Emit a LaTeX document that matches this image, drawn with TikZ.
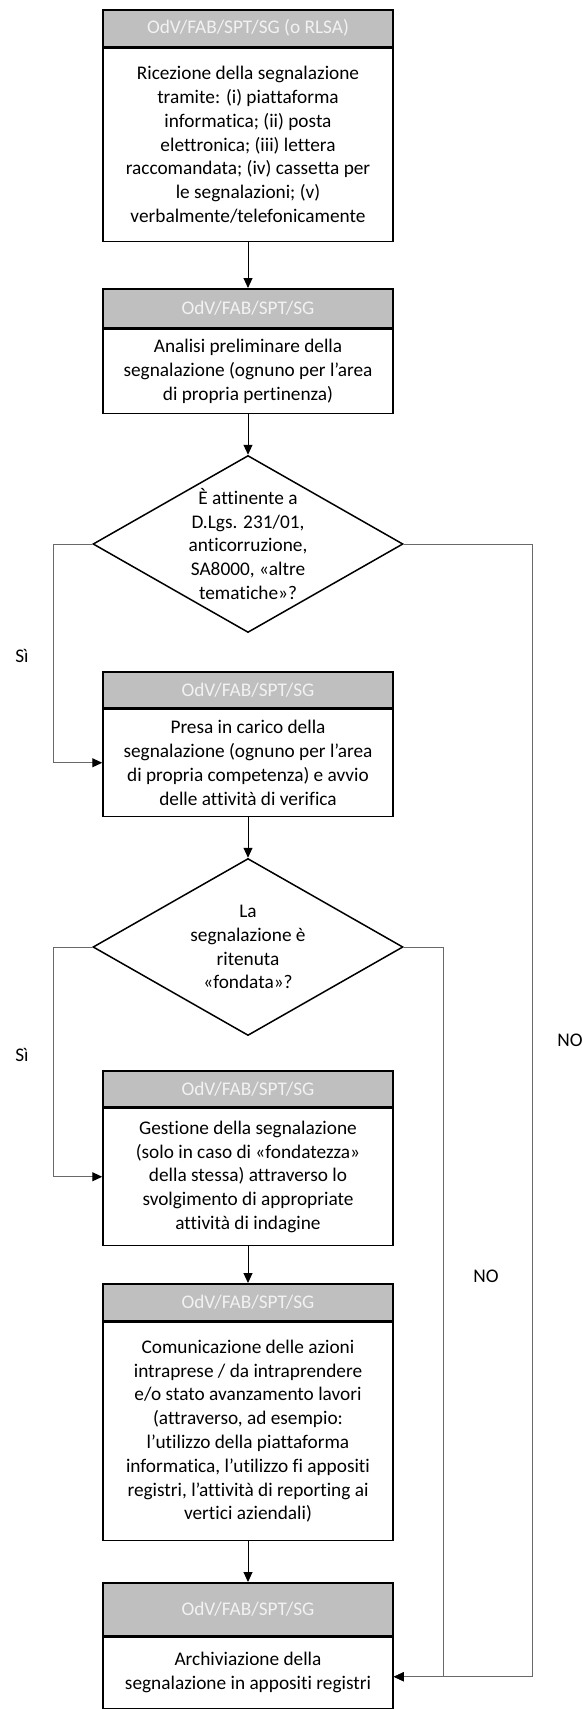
\documentclass[tikz,border=0pt]{standalone}
\usepackage{fontspec}
\setmainfont[Ligatures=NoCommon]{Carlito}
\usetikzlibrary{arrows.meta,shapes.geometric}
\definecolor{hdrfill}{RGB}{191,191,191}
\definecolor{hdrtext}{RGB}{242,242,242}
\definecolor{route}{RGB}{105,105,105}
\begin{document}
\begin{tikzpicture}[x=1pt,y=-1pt,
  every node/.style={font=\fontsize{19.3}{23.8}\selectfont},
  hdr/.style={draw, line width=1.5pt, fill=hdrfill, text=hdrtext, minimum width=290pt, anchor=north, inner sep=0pt},
  body/.style={draw, line width=1.5pt, fill=white, minimum width=290pt, anchor=north, align=center, inner sep=0pt},
  dia/.style={draw, diamond, line width=1.5pt, minimum width=310pt, minimum height=177pt, inner sep=0pt},
  dtext/.style={align=center, inner sep=0pt},
  arr/.style={-{Triangle[length=10pt,width=9pt]}, line width=0.9pt, black},
  rarr/.style={-{Triangle[length=10pt,width=9pt,color=black]}, line width=1pt, route},
  lbl/.style={inner sep=0pt}
]
\useasboundingbox (0,0) rectangle (583,1709);

% Box 1
\node[hdr, minimum height=37pt] (h1) at (248,9) {OdV/FAB/SPT/SG (o RLSA)};
\node[body, minimum height=193pt] (b1) at (h1.south) {Ricezione della segnalazione\\tramite: (i) piattaforma\\informatica; (ii) posta\\elettronica; (iii) lettera\\raccomandata; (iv) cassetta per\\le segnalazioni; (v)\\verbalmente/telefonicamente};

% Box 2
\node[hdr, minimum height=39pt] (h2) at (248,288) {OdV/FAB/SPT/SG};
\node[body, minimum height=84pt] (b2) at (h2.south) {Analisi preliminare della\\segnalazione (ognuno per l’area\\di propria pertinenza)};

% Diamond 1
\node[dia, label={[dtext]center:{È attinente a\\D.Lgs. 231/01,\\anticorruzione,\\SA8000, «altre\\tematiche»?}}] (d1) at (248,544) {};

% Box 3
\node[hdr, minimum height=36pt] (h3) at (248,671) {OdV/FAB/SPT/SG};
\node[body, minimum height=107pt] (b3) at (h3.south) {Presa in carico della\\segnalazione (ognuno per l’area\\di propria competenza) e avvio\\delle attività di verifica};

% Diamond 2
\node[dia, label={[dtext]center:{La\\segnalazione è\\ritenuta\\«fondata»?}}] (d2) at (248,947) {};

% Box 4
\node[hdr, minimum height=36pt] (h4) at (248,1070) {OdV/FAB/SPT/SG};
\node[body, minimum height=137pt] (b4) at (h4.south) {Gestione della segnalazione\\(solo in caso di «fondatezza»\\della stessa) attraverso lo\\svolgimento di appropriate\\attività di indagine};

% Box 5
\node[hdr, minimum height=37pt] (h5) at (248,1283) {OdV/FAB/SPT/SG};
\node[body, minimum height=218pt] (b5) at (h5.south) {Comunicazione delle azioni\\intraprese / da intraprendere\\e/o stato avanzamento lavori\\(attraverso, ad esempio:\\l’utilizzo della piattaforma\\informatica, l’utilizzo fi appositi\\registri, l’attività di reporting ai\\vertici aziendali)};

% Box 6
\node[hdr, minimum height=53pt] (h6) at (248,1582) {OdV/FAB/SPT/SG};
\node[body, minimum height=71pt] (b6) at (h6.south) {Archiviazione della\\segnalazione in appositi registri};
\draw[line width=3pt] (h6.south west) -- (h6.south east);

% Labels
\node[lbl] (si1) at (22,656) {Sì};
\node[lbl] (si2) at (22,1055) {Sì};
\node[lbl] (no1) at (570,1040) {NO};
\node[lbl] (no2) at (486,1276) {NO};

% Straight connectors
\draw[arr] (b1.south) -- (h2.north);
\draw[arr] (b2.south) -- (d1.north);
\draw[arr] (b3.south) -- (d2.north);
\draw[arr] (b4.south) -- (h5.north);
\draw[arr] (b5.south) -- (h6.north);

% Routed connectors
\draw[rarr] (d1.west) -- ++(-39,0) |- (b3.west);
\draw[rarr] (d2.west) -- ++(-39,0) |- (b4.west);
\draw[rarr] (d1.east) -- ++(129,0) |- ([yshift=-4pt]b6.east);
\draw[rarr] (d2.east) -- ++(40,0) |- ([yshift=-4pt]b6.east);
\end{tikzpicture}
\end{document}
